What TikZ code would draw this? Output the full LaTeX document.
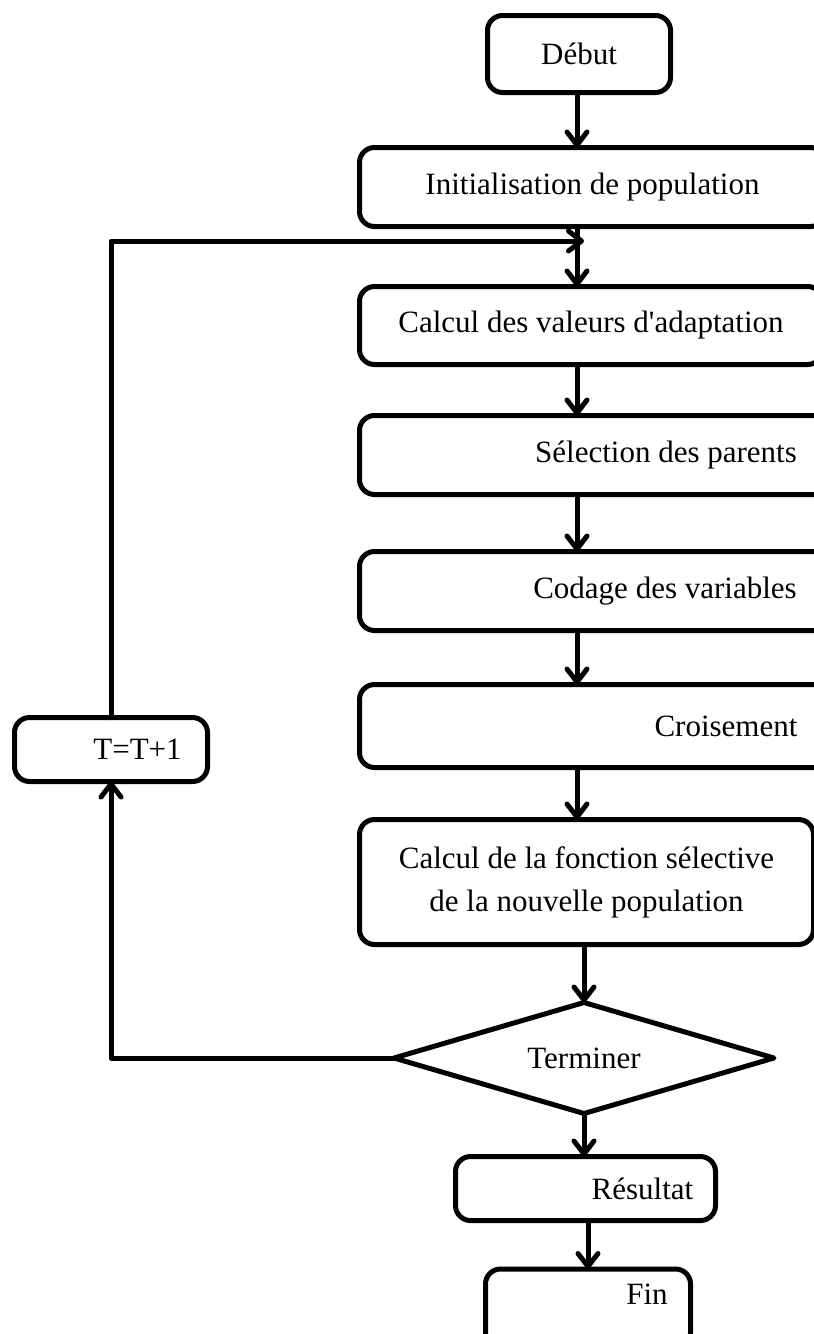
\documentclass[tikz,border=0pt]{standalone}
\usepackage{fontspec}
\setmainfont{Liberation Serif}
\usetikzlibrary{arrows.meta,shapes.geometric,calc}
\begin{document}
\begin{tikzpicture}[x=1pt,y=-1pt,
  line width=5pt,
  every node/.style={font=\fontsize{31}{43}\selectfont, inner sep=0pt, outer sep=0pt},
  stepbox/.style={draw, rounded corners=15pt, align=center},
  testbox/.style={draw, diamond, aspect=3.4, line join=round},
  flow/.style={-{Straight Barb[length=13pt,width=20pt,round]}, line cap=round, line join=round}]
\useasboundingbox (0,0) rectangle (814,1334);
\clip (0,0) rectangle (814,1334);

% main column of steps
\node[stepbox, minimum width=183pt, minimum height=77pt] (debut) at (579,54) {Début};
\node[stepbox, minimum width=466pt, minimum height=79pt] (init) at (592.5,187) {Initialisation de population};
\node[stepbox, minimum width=463pt, minimum height=78pt] (calc) at (591,325.5) {Calcul des valeurs d\textquotesingle adaptation};
\node[stepbox, minimum width=613pt, minimum height=79pt] (sel) at (666,455) {Sélection des parents};
\node[stepbox, minimum width=611pt, minimum height=79pt] (cod) at (665,591) {Codage des variables};
\node[stepbox, minimum width=733pt, minimum height=83pt] (cro) at (726,726) {Croisement};
\node[stepbox, minimum width=454pt, minimum height=125pt] (fon) at (586.5,882) {Calcul de la fonction sélective\\de la nouvelle population};
\node[testbox, minimum width=380pt, minimum height=111pt] (ter) at (584,1058) {Terminer};
\node[stepbox, minimum width=260pt, minimum height=64pt,
      label={[xshift=57pt]center:Résultat}] (res) at (585.5,1188.5) {};
\node[stepbox, minimum width=205pt, minimum height=79pt,
      label={[xshift=59pt,yshift=14pt]center:Fin}] (fin) at (588,1308.5) {};

% generation counter on the loop
\node[stepbox, minimum width=193pt, minimum height=64pt,
      label={[xshift=26.5pt]center:T=T+1}] (inc) at (111,749.5) {};

% connectors
\coordinate (spine) at (577,0);
\coordinate (merge) at (584,241);
\draw[flow] (debut.south -| spine) -- (init.north -| spine);
\draw[flow] (init.south -| spine) -- (calc.north -| spine);
\draw[flow] (calc.south -| spine) -- (sel.north -| spine);
\draw[flow] (sel.south -| spine) -- (cod.north -| spine);
\draw[flow] (cod.south -| spine) -- (cro.north -| spine);
\draw[flow] (cro.south -| spine) -- (fon.north -| spine);
\draw[flow] (fon.south -| ter) -- (ter.north);
\draw[flow] (ter.south) -- (res.north -| ter);
\draw[flow] (res.south -| fin) -- (fin.north);

% feedback loop
\draw[flow] (ter.west) -- (ter.west -| inc) -- (inc.south);
\draw[flow] (inc.north) -- (inc.north |- merge) -- (merge);
\end{tikzpicture}
\end{document}
